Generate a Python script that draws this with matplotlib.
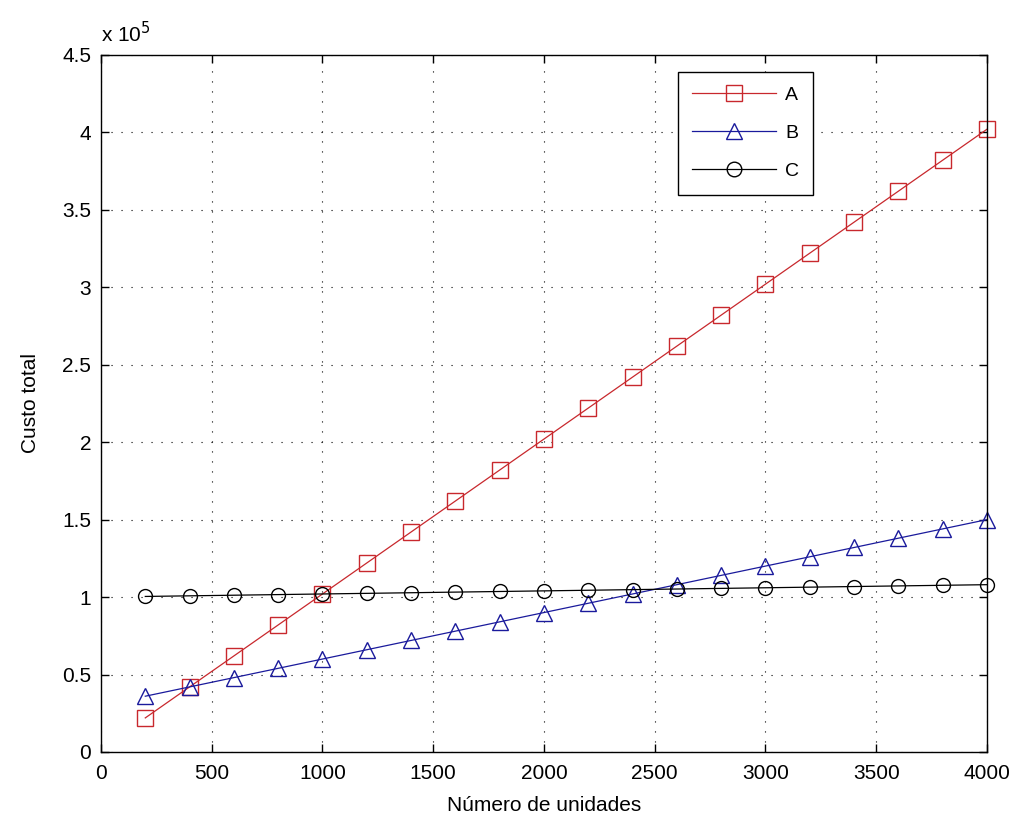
import matplotlib
matplotlib.use("Agg")
import matplotlib.pyplot as plt
from matplotlib.ticker import FuncFormatter, MultipleLocator

plt.rcParams['font.family'] = ['Liberation Sans', 'DejaVu Sans']

units = [200, 400, 600, 800, 1000, 1200, 1400, 1600, 1800, 2000,
         2200, 2400, 2600, 2800, 3000, 3200, 3400, 3600, 3800, 4000]
cost_A = [22000, 42000, 62000, 82000, 102000, 122000, 142000, 162000, 182000, 202000,
          222000, 242000, 262000, 282000, 302000, 322000, 342000, 362000, 382000, 402000]
cost_B = [36000, 42000, 48000, 54000, 60000, 66000, 72000, 78000, 84000, 90000,
          96000, 102000, 108000, 114000, 120000, 126000, 132000, 138000, 144000, 150000]
cost_C = [100400, 100800, 101200, 101600, 102000, 102400, 102800, 103200, 103600, 104000,
          104400, 104800, 105200, 105600, 106000, 106400, 106800, 107200, 107600, 108000]
labels = ['A', 'B', 'C']

fig = plt.figure(figsize=(10.16, 8.23), dpi=100)
ax = fig.add_axes([0.0994, 0.0863, 0.872, 0.847])

kw = dict(lw=0.9, mfc='none', mew=1.0, clip_on=False)
ax.plot(units, cost_A, color='#c8282d', marker='s', ms=11, label=labels[0], **kw)
ax.plot(units, cost_B, color='#1a1a9c', marker='^', ms=11, label=labels[1], **kw)
ax.plot(units, cost_C, color='black', marker='o', ms=10, label=labels[2], **kw)

ax.set_xlim(0, 4000)
ax.set_ylim(0, 450000)
ax.xaxis.set_major_locator(MultipleLocator(500))
ax.yaxis.set_major_locator(MultipleLocator(50000))
ax.yaxis.set_major_formatter(FuncFormatter(lambda v, p: f"{v/1e5:g}"))

ax.grid(True, color='black', linestyle=(0, (1, 8)), linewidth=0.8)
ax.tick_params(direction='in', length=6, width=1, top=True, right=True, labelsize=15)
ax.tick_params(axis='x', pad=9)
ax.tick_params(axis='y', pad=7)
for s in ax.spines.values():
    s.set_linewidth(1.0)

ax.set_xlabel('Número de unidades', fontsize=15, labelpad=9)
ax.set_ylabel('Custo total', fontsize=15, labelpad=16)
ax.text(0.0, 1.012, r'x 10$^{5}$', transform=ax.transAxes, fontsize=15, ha='left', va='bottom')

leg = ax.legend(loc='upper left', bbox_to_anchor=(0.651, 0.9756), borderaxespad=0,
                fontsize=14, frameon=True, fancybox=False, edgecolor='black', framealpha=1,
                handlelength=4.3, borderpad=0.75, labelspacing=1.05, handletextpad=0.46,
                markerscale=1.05)
leg.get_frame().set_linewidth(1.0)

fig.savefig('out.png', dpi=100)
